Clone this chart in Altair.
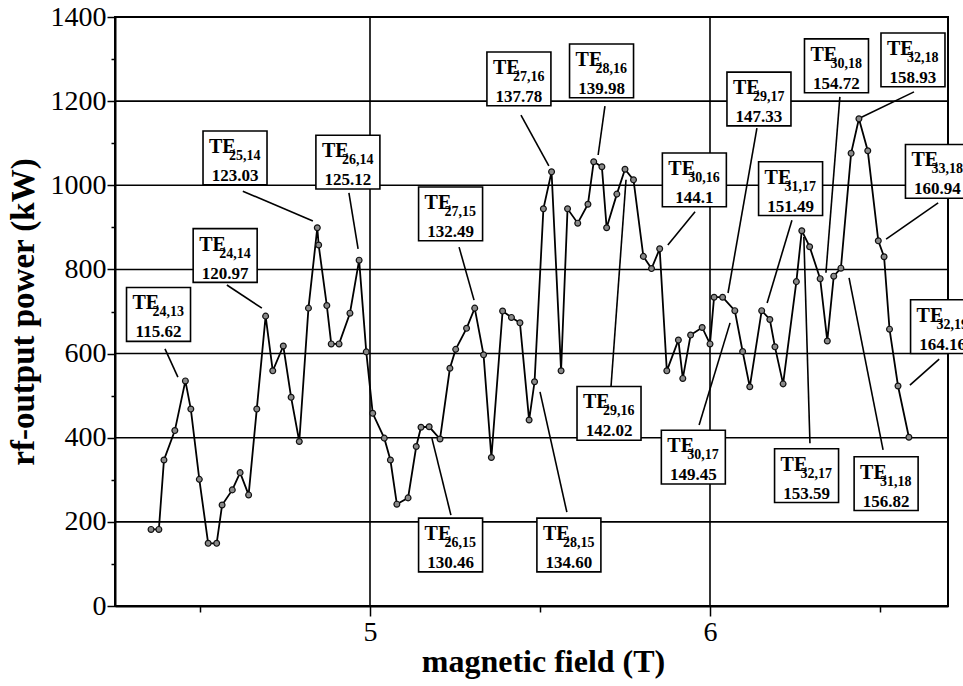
import altair as alt
import pandas as pd

# ---------------- data ----------------
field = [4.356, 4.379, 4.394, 4.426, 4.457, 4.473, 4.498, 4.524, 4.549, 4.565,
         4.595, 4.618, 4.643, 4.667, 4.693, 4.714, 4.745, 4.768, 4.792, 4.819,
         4.845, 4.849, 4.873, 4.886, 4.909, 4.941, 4.968, 4.989, 5.008, 5.042,
         5.060, 5.079, 5.112, 5.136, 5.150, 5.174, 5.206, 5.235, 5.252, 5.284,
         5.308, 5.334, 5.357, 5.390, 5.416, 5.441, 5.468, 5.484, 5.510, 5.534,
         5.562, 5.581, 5.611, 5.641, 5.658, 5.682, 5.696, 5.726, 5.750, 5.775,
         5.804, 5.828, 5.852, 5.873, 5.907, 5.920, 5.943, 5.977, 6.000, 6.012,
         6.037, 6.073, 6.096, 6.117, 6.152, 6.176, 6.191, 6.215, 6.254, 6.270,
         6.293, 6.324, 6.345, 6.364, 6.385, 6.415, 6.438, 6.464, 6.495, 6.512,
         6.528, 6.553, 6.585]
power = [182, 182, 347, 417, 535, 468, 301, 149, 149, 240,
         276, 317, 264, 468, 689, 559, 618, 496, 391, 708,
         899, 858, 714, 623, 623, 696, 822, 604, 458, 399,
         347, 242, 257, 379, 425, 426, 397, 565, 610, 660,
         708, 597, 353, 701, 686, 673, 442, 533, 944, 1032,
         559, 944, 910, 955, 1056, 1044, 899, 979, 1038, 1013,
         831, 802, 849, 559, 632, 541, 644, 662, 623, 734,
         734, 702, 605, 521, 702, 681, 616, 528, 771, 892,
         854, 778, 630, 784, 803, 1076, 1158, 1082, 868, 830,
         658, 523, 401]

# mode labels (TE_m,n and frequency in GHz)
mode = ["24,13", "24,14", "25,14", "26,14", "27,15", "27,16", "28,16", "29,17",
        "30,16", "31,17", "30,18", "32,18", "33,18", "32,19", "29,16", "30,17",
        "32,17", "31,18", "26,15", "28,15"]
freq = ["115.62", "120.97", "123.03", "125.12", "132.49", "137.78", "139.98", "147.33",
        "144.1", "151.49", "154.72", "158.93", "160.94", "164.16", "142.02", "149.45",
        "153.59", "156.82", "130.46", "134.60"]
# label anchor (box centre) in data units
lab_x = [4.378, 4.574, 4.603, 4.935, 5.237, 5.438, 5.681, 6.144, 5.954, 6.237,
         6.372, 6.597, 6.669, 6.684, 5.703, 5.951, 6.284, 6.518, 5.237, 5.585]
lab_y = [693, 833, 1065, 1055, 932, 1253, 1272, 1205, 1013, 992,
         1284, 1298, 1033, 664, 458, 354, 310, 291, 145, 145]
# leader lines in data units
lead_x0 = [4.397, 4.579, 4.626, 4.938, 5.262, 5.444, 5.691, 6.138, 5.956, 6.241,
           6.382, 6.600, 6.671, 6.674, 5.709, 5.968, 6.294, 6.509, 5.238, 5.579]
lead_y0 = [611, 763, 986, 982, 853, 1167, 1188, 1136, 937, 917,
           1210, 1222, 958, 587, 523, 430, 387, 371, 216, 223]
lead_x1 = [4.435, 4.682, 4.832, 4.965, 5.306, 5.526, 5.671, 6.053, 5.876, 6.168,
           6.341, 6.441, 6.518, 6.588, 5.753, 6.059, 6.276, 6.409, 5.182, 5.500]
lead_y1 = [544, 708, 915, 849, 727, 1046, 1072, 744, 858, 720,
           792, 1160, 872, 525, 1013, 673, 877, 780, 399, 509]

hgrid = [200, 400, 600, 800, 1000, 1200]
vgrid = [5, 6]
x_ticks = [4.5, 5, 5.5, 6, 6.5]
y_ticks = list(range(0, 1401, 100))

# ---------------- tables ----------------
df = pd.DataFrame({"field": field, "power": power})
labels = pd.DataFrame({"field": lab_x, "power": lab_y, "mode": mode, "freq": freq})
leaders = pd.DataFrame({"field": lead_x0, "power": lead_y0, "field2": lead_x1, "power2": lead_y1})
hg = pd.DataFrame({"power": hgrid})
vg = pd.DataFrame({"field": vgrid})

SERIF = "Liberation Serif"
XT = "magnetic field  (T)"
YT = "rf-output power  (kW)"

x_scale = alt.Scale(domain=[4.25, 6.70], nice=False, zero=False)
y_scale = alt.Scale(domain=[0, 1400], nice=False, zero=False)

x_axis = alt.Axis(
    values=x_ticks,
    labelExpr="(datum.value == 5 || datum.value == 6) ? format(datum.value, 'd') : ''",
    tickSize={"condition": {"test": "datum.value == 5 || datum.value == 6", "value": 10}, "value": 6},
    labelPadding=2, labelFontSize=28, labelFont=SERIF, labelFontWeight="normal",
    titleFont=SERIF, titleFontSize=32, titleFontWeight="bold", titlePadding=0, titleX=428,
)
y_axis = alt.Axis(
    values=y_ticks,
    labelExpr="datum.value % 200 == 0 ? format(datum.value, 'd') : ''",
    tickSize={"condition": {"test": "datum.value % 200 == 0", "value": 8}, "value": 4},
    labelPadding=1, labelFontSize=28, labelFont=SERIF, labelFontWeight="normal",
    titleFont=SERIF, titleFontSize=33, titleFontWeight="bold", titlePadding=10,
)


def X(f="field"):
    return alt.X(f"{f}:Q", scale=x_scale, axis=x_axis, title=XT)


def Y(f="power"):
    return alt.Y(f"{f}:Q", scale=y_scale, axis=y_axis, title=YT)


hgrid_l = alt.Chart(hg).mark_rule(color="black", strokeWidth=1.6).encode(y=Y())
vgrid_l = alt.Chart(vg).mark_rule(color="black", strokeWidth=1.6).encode(x=X())

leader_l = alt.Chart(leaders).mark_rule(color="black", strokeWidth=1.6).encode(
    x=X(), y=Y(), x2="field2:Q", y2="power2:Q")

line_l = alt.Chart(df).mark_line(color="black", strokeWidth=1.8).encode(x=X(), y=Y())
pts_l = alt.Chart(df).mark_point(shape="circle", size=34, filled=True, fill="#8a8a8a",
                                 stroke="#111111", strokeWidth=1.2, opacity=1).encode(x=X(), y=Y())

box_l = alt.Chart(labels).mark_point(
    shape="M-1,-0.84L1,-0.84L1,0.84L-1,0.84Z", size=4096, filled=True,
    fill="white", stroke="black", strokeWidth=1.6, opacity=1).encode(x=X(), y=Y())

te_l = alt.Chart(labels).mark_text(font=SERIF, fontWeight="bold", fontSize=20, align="left",
                                   baseline="alphabetic", dx=-26, dy=-5, color="black").encode(
    x=X(), y=Y(), text=alt.value("TE"))
sub_l = alt.Chart(labels).mark_text(font=SERIF, fontWeight="bold", fontSize=14, align="left",
                                    baseline="alphabetic", dx=-6, dy=2, color="black").encode(
    x=X(), y=Y(), text="mode:N")
num_l = alt.Chart(labels).mark_text(font=SERIF, fontWeight="bold", fontSize=17, align="center",
                                    baseline="alphabetic", dx=0, dy=23, color="black").encode(
    x=X(), y=Y(), text="freq:N")

chart = alt.layer(hgrid_l, vgrid_l, leader_l, line_l, pts_l, box_l, te_l, sub_l, num_l).properties(
    width=833, height=589,
    padding={"left": 115, "top": 17, "right": 15, "bottom": 80},
    autosize=alt.AutoSizeParams(type="none"),
    background="white",
).configure_view(stroke="black", strokeWidth=2).configure_axis(
    grid=False, domainColor="black", domainWidth=2, tickColor="black", tickWidth=1.5,
    labelColor="black", titleColor="black", labelFont=SERIF, titleFont=SERIF,
)

chart.save("out.html", embed_options={"renderer": "svg", "actions": False})
